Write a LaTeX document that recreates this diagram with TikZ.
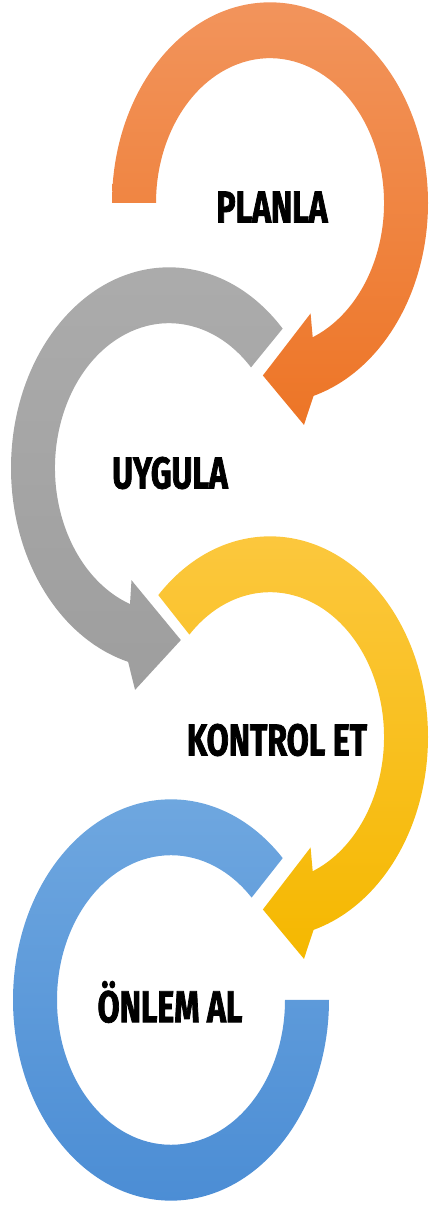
\documentclass[tikz,border=0pt]{standalone}
\usepackage{fontspec}
\newfontfamily\labelfont[FakeStretch=0.72,BoldFeatures={FakeBold=1.6}]{Fira Sans}
\definecolor{orangetop}{RGB}{242,148,92}
\definecolor{orangebot}{RGB}{237,117,38}
\definecolor{graytop}{RGB}{172,172,172}
\definecolor{graybot}{RGB}{158,158,158}
\definecolor{yellowtop}{RGB}{252,200,64}
\definecolor{yellowbot}{RGB}{245,184,0}
\definecolor{bluetop}{RGB}{112,168,224}
\definecolor{bluebot}{RGB}{74,140,212}
\tikzset{
  ringlabel/.style={font=\labelfont\bfseries\fontsize{38}{40}\selectfont,inner sep=0pt},
  orangering/.style={top color=orangetop,bottom color=orangebot},
  grayring/.style={top color=graytop,bottom color=graybot},
  yellowring/.style={top color=yellowtop,bottom color=yellowbot},
  bluering/.style={top color=bluetop,bottom color=bluebot}
}
\begin{document}
\begin{tikzpicture}[x=0.03cm,y=0.03cm]
  \useasboundingbox (0,0) rectangle (431,1205);
  \begin{scope}[shift={(270,1002)},yscale=1.27]
    \shade[orangering] (180:158) arc[start angle=180,end angle=-74,radius=158] -- (-79:178) -- (-93:136) -- (-65:96) -- (-68:114) arc[start angle=-68,end angle=180,radius=114] -- cycle;
  \end{scope}
  \begin{scope}[shift={(169,737)},yscale=1.27]
    \shade[grayring] (44:158) arc[start angle=44,end angle=255,radius=158] -- (259:178) -- (275:136) -- (247:96) -- (250:114) arc[start angle=250,end angle=44,radius=114] -- cycle;
  \end{scope}
  \begin{scope}[shift={(270,468)},yscale=1.27]
    \shade[yellowring] (135:158) arc[start angle=135,end angle=-74,radius=158] -- (-79:178) -- (-93:136) -- (-65:96) -- (-68:114) arc[start angle=-68,end angle=135,radius=114] -- cycle;
  \end{scope}
  \begin{scope}[shift={(171,205)},yscale=1.27]
    \shade[bluering] (45:158) arc[start angle=45,end angle=360,radius=158] -- (360:114) arc[start angle=360,end angle=45,radius=114] -- cycle;
  \end{scope}
  \node[ringlabel] (planla) at (272,998) {PLANLA};
  \node[ringlabel] (uygula) at (170,732) {UYGULA};
  \node[ringlabel] (kontrol) at (277,465) {KONTROL ET};
  \node[ringlabel] (onlem) at (170,203) {ÖNLEM AL};
\end{tikzpicture}
\end{document}
